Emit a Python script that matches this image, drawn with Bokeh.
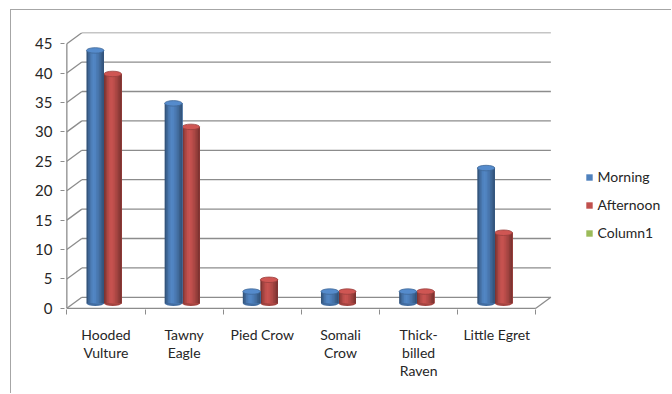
from bokeh.plotting import figure
from bokeh.models import (Range1d, FixedTicker, LinearAxis, Legend, LegendItem,
                          ColumnDataSource)
from bokeh.embed import file_html
from bokeh.resources import INLINE

# ---- data ----
categories = ["Hooded\nVulture", "Tawny\nEagle", "Pied Crow", "Somali\nCrow",
              "Thick-\nbilled\nRaven", "Little Egret"]
morning = [43, 34, 2, 2, 2, 23]
afternoon = [39, 30, 4, 2, 2, 12]
column1 = []
y_ticks = [0, 5, 10, 15, 20, 25, 30, 35, 40, 45]
series_names = ["Morning", "Afternoon", "Column1"]
series_colors = [(79, 129, 189), (192, 80, 77), (155, 187, 89)]

# ---- geometry (pixel scale) ----
OX, OY = 11.5, 10.5          # canvas offset inside the page (outer chart border)
CW, CH = 660, 383            # canvas size
XS = 78.17                   # px per category
YS = 5.88                    # px per unit
FL, FT = 53, 22              # frame left / top inside canvas
X0 = -0.03
Y0, Y1 = -0.2, 46.9
FH = round((Y1 - Y0) * YS)
FW = CW - FL
X1 = X0 + FW / XS
DXB = 15 / XS          # depth of back wall
DYB = 11 / YS
DYM = 5 / YS           # cylinder base offset
BW = 0.224             # cylinder width
XOFF = -0.025
CAP = 5.5 / YS

FONT = "Lato"
TXT = "#262626"
GRID = "#8c8c8c"

p = figure(frame_width=FW, frame_height=FH, x_range=Range1d(X0, X1), y_range=Range1d(Y0, Y1),
           x_axis_type=None, y_axis_type=None, output_backend="svg", toolbar_location=None,
           min_border_left=FL, min_border_top=FT, min_border_right=0,
           min_border_bottom=CH - FT - FH)
p.outline_line_color = None
p.background_fill_color = "white"
p.border_fill_color = "white"
p.margin = (9, 0, 0, 10)
p.styles = {"border-left": "1.5px solid #a6a6a6", "border-top": "1.5px solid #a6a6a6"}

n = len(categories)
tops = [v + DYB for v in y_ticks]

# back wall gridlines
p.segment(x0=[DXB] * len(y_ticks), y0=tops, x1=[n + DXB] * len(y_ticks), y1=tops,
          line_color=GRID, line_width=1.3)
# side wall diagonals
p.segment(x0=[0] * len(y_ticks), y0=y_ticks, x1=[DXB] * len(y_ticks), y1=tops,
          line_color=GRID, line_width=1.3)
# front axis and floor
p.segment(x0=[0, 0, n], y0=[0, 0, 0], x1=[0, n, n + DXB], y1=[max(y_ticks), 0, DYB],
          line_color=GRID, line_width=1.3)


def shade(rgb, f):
    return "#%02x%02x%02x" % tuple(max(0, min(255, int(c * f))) for c in rgb)


profile = [0.66, 0.8, 0.92, 1.0, 1.04, 1.02, 0.96, 0.9, 0.83, 0.74, 0.66]
NS = len(profile)


def cylinders(values, rgb, shift):
    xs = [i + 0.5 + XOFF + shift for i in range(len(values))]
    base = [DYM] * len(values)
    topv = [v + DYM for v in values]
    p.ellipse(x=xs, y=base, width=BW, height=CAP, fill_color=shade(rgb, 0.85),
              line_color=None)
    sw = BW / NS
    for k, f in enumerate(profile):
        wk = BW - k * sw
        p.vbar(x=[x + BW / 2 - wk / 2 for x in xs], width=wk, bottom=base,
               top=topv, fill_color=shade(rgb, f), line_color=None)
    p.ellipse(x=xs, y=topv, width=BW, height=CAP, fill_color=shade(rgb, 1.08),
              line_color=shade(rgb, 0.8), line_width=0.8)


cylinders(afternoon, series_colors[1], BW / 2)
cylinders(morning, series_colors[0], -BW / 2)

# legend renderers (one empty-valued row each, only used for the legend swatch)
nan = float("nan")
leg_items = []
for name, rgb in zip(series_names, series_colors):
    src = ColumnDataSource(data=dict(x=[nan], top=[nan]))
    r = p.vbar(x="x", top="top", width=0.1, source=src, fill_color=shade(rgb, 1.0),
               line_color=None)
    leg_items.append(LegendItem(label=name, renderers=[r]))

frame_left_page = OX + FL
frame_bottom_page = OY + FT + FH
legend = Legend(items=leg_items, location=(585 - frame_left_page, frame_bottom_page - 243),
                glyph_width=8, glyph_height=8, label_height=20, spacing=8, padding=0,
                label_standoff=5, label_text_font=FONT, label_text_font_size="14px",
                label_text_color=TXT, border_line_color=None, background_fill_alpha=0)
p.add_layout(legend, "center")

# axes
yaxis = LinearAxis(ticker=FixedTicker(ticks=y_ticks))
yaxis.axis_line_color = None
yaxis.major_tick_in = 0
yaxis.major_tick_out = 4
yaxis.major_tick_line_color = GRID
yaxis.minor_tick_line_color = None
yaxis.major_label_standoff = 8
yaxis.major_label_text_font = FONT
yaxis.major_label_text_font_size = "15px"
yaxis.major_label_text_color = TXT
p.add_layout(yaxis, "left")

centers = [i + 0.5 for i in range(n)]
xaxis = LinearAxis(ticker=FixedTicker(ticks=centers, minor_ticks=list(range(n + 1))))
xaxis.axis_line_color = None
xaxis.major_tick_in = 0
xaxis.major_tick_out = 0
xaxis.minor_tick_in = 0
xaxis.minor_tick_out = 5
xaxis.minor_tick_line_color = GRID
xaxis.major_label_overrides = {c: lab for c, lab in zip(centers, categories)}
xaxis.major_label_standoff = 11
xaxis.major_label_text_font = FONT
xaxis.major_label_text_font_size = "14px"
xaxis.major_label_text_color = TXT
xaxis.major_label_text_line_height = 1.07
p.add_layout(xaxis, "below")

open("out.html", "w").write(file_html(p, INLINE))
